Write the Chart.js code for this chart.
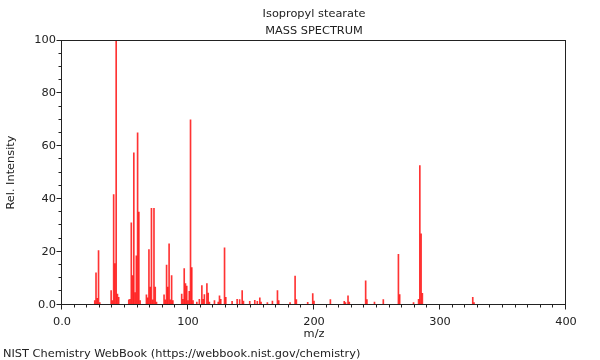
<!DOCTYPE html>
<html>
<head>
<meta charset="utf-8">
<script src="https://cdn.jsdelivr.net/npm/chart.js@4"></script>
<style>
  body { margin: 0; background: #fff; }
  #wrap { width: 600px; height: 360px; }
</style>
</head>
<body>
<div id="wrap"><canvas id="chart1" width="600" height="360"></canvas></div>
<script>
// peaks (m/z and relative intensity)
const mz = [26, 27, 28, 29, 30, 39, 40, 41, 42, 43, 44, 45,
    53, 54, 55, 56, 57, 58, 59, 60, 61, 62,
    67, 68, 69, 70, 71, 72, 73, 74, 75,
    81, 82, 83, 84, 85, 86, 87, 88,
    95, 96, 97, 98, 99, 100, 101, 102, 103, 104,
    107, 109, 111, 112, 113, 115, 116, 117,
    121, 124, 125, 126, 129, 130, 135, 139, 141, 143, 144,
    149, 153, 155, 157, 158, 163, 167, 171, 172,
    181, 185, 186, 195, 199, 200, 213, 224, 225, 227, 228,
    241, 242, 248, 255, 267, 268, 279, 283, 284, 285, 286, 326, 327];
const intensity = [1.5, 12, 2.4, 20.5, 0.8, 5.3, 1.5, 41.7, 15.5, 100, 4, 2.8,
    1.8, 2.0, 31, 11, 57.5, 4.6, 18.5, 65, 35, 1.5,
    3.7, 2.6, 20.8, 6.6, 36.5, 1.8, 36.5, 6.6, 1.0,
    3.7, 1.8, 15, 6.6, 23, 1.8, 11, 1.5,
    4, 2, 13.6, 8, 7, 1.5, 5, 70, 14, 1.5,
    1, 2, 7.2, 2, 3.8, 8, 4.4, 1,
    1.5, 1, 3.3, 2, 21.5, 2.8, 1.2, 2, 1.9, 5.3, 1.3,
    1.2, 1.6, 1.2, 2.6, 1, 0.8, 1.3, 5.3, 1.5,
    0.8, 10.8, 1.9, 0.9, 4.2, 1.3, 1.9, 1.2, 0.8, 3.3, 1,
    9, 1.9, 1, 1.9, 19, 3.8, 0.8, 2, 52.6, 26.8, 4.3, 2.8, 0.8];

const xTickStep = 10;   // small marks on m/z axis
const yTickStep = 5;    // small marks on intensity axis
const titleLines = ['Isopropyl stearate', 'MASS SPECTRUM'];
const footer = 'NIST Chemistry WebBook (https://webbook.nist.gov/chemistry)';

const font = { family: 'DejaVu Sans', size: 11.35, weight: 'normal' };
const ink = '#222';

// frame + tick marks like the NIST plot (long at labelled values, short otherwise)
const frameAndTicks = {
    id: 'frameAndTicks',
    afterDraw(chart) {
        const { ctx, chartArea } = chart;
        const x = chart.scales.x;
        const y = chart.scales.y;
        const left = Math.round(chartArea.left) - 0.5;
        const right = Math.round(chartArea.right) - 0.5;
        const top = Math.round(chartArea.top) - 0.5;
        const bottom = Math.round(chartArea.bottom) - 0.5;

        ctx.save();
        ctx.strokeStyle = ink;
        ctx.lineWidth = 1;
        ctx.strokeRect(left, top, right - left, bottom - top);

        ctx.beginPath();
        for (let v = x.min; v <= x.max; v += xTickStep) {
            const px = Math.round(x.getPixelForValue(v)) - 0.5;
            const len = v % 100 === 0 ? 5 : 3;
            ctx.moveTo(px, bottom);
            ctx.lineTo(px, bottom + len);
        }
        for (let v = y.min; v <= y.max; v += yTickStep) {
            const py = Math.round(y.getPixelForValue(v)) - 0.5;
            const len = v % 20 === 0 ? 5 : 3;
            ctx.moveTo(left, py);
            ctx.lineTo(left - len, py);
        }
        ctx.stroke();
        ctx.restore();
    }
};

const points = [];
for (let i = 0; i < mz.length; i++) {
    points.push({ x: mz[i], y: intensity[i] });
}

const ctx = document.getElementById('chart1').getContext('2d');
const chart = new Chart(ctx, {
    type: 'bar',
    data: {
        datasets: [{
            data: points,
            backgroundColor: 'rgba(255, 0, 0, 0.8)',
            borderWidth: 0,
            barThickness: 1
        }]
    },
    options: {
        responsive: false,
        animation: false,
        layout: { padding: { left: 3, right: 34, top: 0, bottom: 0 } },
        plugins: {
            legend: { display: false },
            tooltip: { enabled: false },
            title: {
                display: true,
                text: titleLines,
                fullSize: false,
                color: ink,
                font: { family: 'DejaVu Sans', size: 11.35, weight: 'normal', lineHeight: 1.498 },
                padding: { top: 6, bottom: 0.5 }
            },
            subtitle: {
                display: true,
                text: footer,
                position: 'bottom',
                align: 'start',
                color: ink,
                font: { family: 'DejaVu Sans', size: 11.35, weight: 'normal', lineHeight: 1.02 },
                padding: { top: 4, bottom: 0 }
            }
        },
        scales: {
            x: {
                type: 'linear',
                min: 0,
                max: 400,
                offset: false,
                grid: { display: false, drawTicks: false, offset: false },
                border: { display: false },
                ticks: {
                    stepSize: 100,
                    color: ink,
                    font: font,
                    padding: 10.5,
                    maxRotation: 0,
                    callback: (v) => v === 0 ? '0.0' : v
                },
                title: {
                    display: true,
                    text: 'm/z',
                    color: ink,
                    font: font,
                    padding: { top: 0, bottom: 3.4 }
                },
                afterFit: (scale) => { scale.height = 39.8; }
            },
            y: {
                min: 0,
                max: 100,
                grid: { display: false, drawTicks: false },
                border: { display: false },
                ticks: {
                    stepSize: 20,
                    color: ink,
                    font: font,
                    padding: 6,
                    callback: (v) => v === 0 ? '0.0' : v
                },
                title: {
                    display: true,
                    text: 'Rel. Intensity',
                    color: ink,
                    font: font,
                    padding: { top: 1.5, bottom: 0 }
                },
                afterFit: (scale) => { scale.width = 59; }
            }
        }
    },
    plugins: [frameAndTicks]
});
</script>
</body>
</html>
